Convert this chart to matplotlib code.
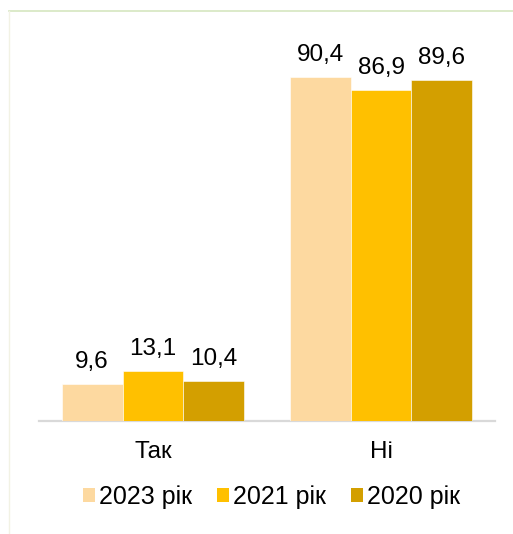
import matplotlib

matplotlib.use("Agg")
import matplotlib.pyplot as plt
import numpy as np
from matplotlib.patches import Patch
from matplotlib.lines import Line2D

plt.rcParams["font.family"] = ["Liberation Sans", "DejaVu Sans"]

categories = ["Так", "Ні"]
series_names = ["2023 рік", "2021 рік", "2020 рік"]
v2023 = [9.6, 90.4]
v2021 = [13.1, 86.9]
v2020 = [10.4, 89.6]
colors = ["#FDD9A0", "#FFC000", "#D39F00"]

fig = plt.figure(figsize=(5.13, 5.34), dpi=100, facecolor="white")
ax = fig.add_axes([0.076, 0.2116, 0.889, 0.7124])

x = np.arange(len(categories))
w = 0.267
for i, (vals, c) in enumerate(zip([v2023, v2021, v2020], colors)):
    pos = x + (i - 1) * w
    ax.bar(pos, vals, width=w, color=c, edgecolor="white", linewidth=0.4, zorder=3)
    for px, v in zip(pos, vals):
        ax.annotate(f"{v:.1f}".replace(".", ","), xy=(px, v), xytext=(0, 8),
                    textcoords="offset points", ha="center", va="bottom",
                    fontsize=17.5, color="#000000")

ax.set_xlim(-0.5, 1.5)
ax.set_ylim(0, 100)
ax.set_yticks([])
ax.set_xticks(x)
ax.set_xticklabels(categories, fontsize=17.5, color="#000000")
ax.tick_params(axis="x", length=0, pad=14.5)
for s in ("top", "right", "left"):
    ax.spines[s].set_visible(False)
ax.spines["bottom"].set_color("#D9D9D9")
ax.spines["bottom"].set_linewidth(1.6)

handles = [Patch(facecolor=c, edgecolor="none") for c in colors]
fig.legend(handles, series_names, loc="center", bbox_to_anchor=(0.530, 0.069),
           ncol=3, frameon=False, fontsize=18, handlelength=0.48, handleheight=0.48,
           handletextpad=0.16, columnspacing=1.0)

# frame lines of the original slide
fig.add_artist(Line2D([9 / 513, 1], [1 - 11 / 534, 1 - 11 / 534],
                      transform=fig.transFigure, color="#D5E6C0", linewidth=1.2))
fig.add_artist(Line2D([9 / 513, 9 / 513], [0, 1 - 11 / 534],
                      transform=fig.transFigure, color="#F2F2E4", linewidth=1.0))

fig.savefig("out.png", dpi=100, facecolor="white")
